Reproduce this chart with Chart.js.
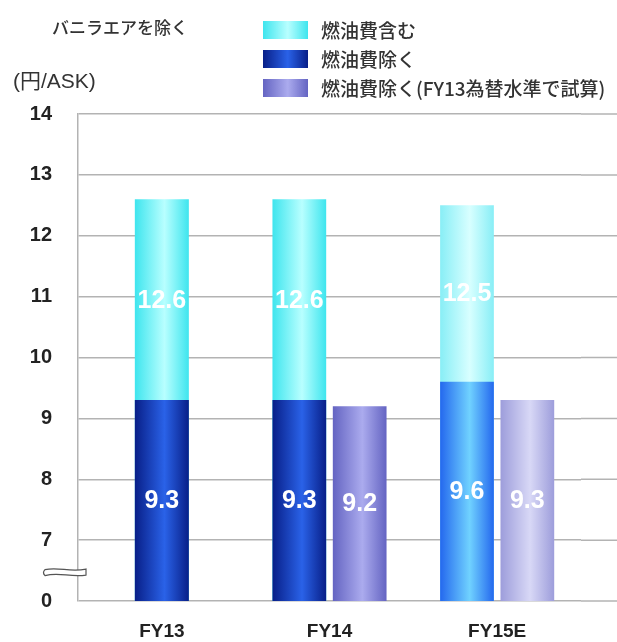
<!DOCTYPE html>
<html lang="ja">
<head>
<meta charset="utf-8">
<script src="https://cdn.jsdelivr.net/npm/chart.js@4.4.0/dist/chart.umd.min.js"></script>
<style>
  body { margin: 0; background: #fff; }
  #wrap { position: relative; width: 617px; height: 642px; }
  .note { position: absolute; white-space: nowrap; color: #333; line-height: 1; }
  #title { left: 52px; top: 14px; font: 500 17px "Noto Sans CJK JP", sans-serif; }
  #unit { left: 13px; top: 64px; font: 21px "Liberation Sans", "Noto Sans CJK JP", sans-serif; }
  #legend { position: absolute; left: 263px; top: 15px; font: 500 19px "Noto Sans CJK JP", sans-serif; color: #333; }
  #legend .row { height: 29px; display: flex; align-items: center; white-space: nowrap; }
  #legend .box { width: 45px; height: 18px; margin-right: 13px; }
</style>
</head>
<body>
<div id="wrap">
  <canvas id="costChart"></canvas>
  <div class="note" id="title">バニラエアを除く</div>
  <div class="note" id="unit">(円/ASK)</div>
  <div id="legend"></div>
</div>
<script>
// Unit cost per ASK, excluding Vanilla Air
const categories = ["FY13", "FY14", "FY15E"];
const seriesNames = ["燃油費含む", "燃油費除く", "燃油費除く(FY13為替水準で試算)"];
const withFuel = [12.6, 12.6, 12.5];
const exFuel = [9.3, 9.3, 9.6];
const exFuelFy13Fx = [null, 9.2, 9.3];
// axis is broken between 0 and 7, the bottom slot stands for 0
const axisFloor = 6;
const axisTop = 14;
const tickLabels = ["0", "7", "8", "9", "10", "11", "12", "13", "14"];

// edge / centre colours for the cylinder shading, estimates are lighter
const shades = {
  cyan: { actual: ["#3ee5ee", "#b8ffff"], estimate: ["#88eef6", "#d8ffff"] },
  blue: { actual: ["#081f88", "#2a62e8"], estimate: ["#2468ee", "#70d2ff"] },
  purple: { actual: ["#6464c2", "#ababee"], estimate: ["#9d9ddb", "#d8d8f6"] },
};
const isEstimate = categories.map((c) => c.endsWith("E"));
const numFont = '"Liberation Sans", Arial, sans-serif';
const gridColor = "#b3b3b3";

const datasets = [
  { label: seriesNames[0], data: withFuel, stack: "main", order: 2, shade: shades.cyan, labelFloor: exFuel },
  { label: seriesNames[1], data: exFuel, stack: "main", order: 1, shade: shades.blue },
  { label: seriesNames[2], data: exFuelFy13Fx, stack: "fx", order: 3, shade: shades.purple },
].map((ds) => Object.assign(ds, {
  backgroundColor: (c) => c.dataset.shade.actual[0],
  borderWidth: 0,
  skipNull: true,
  categoryPercentage: 0.72,
  barPercentage: 0.89,
  maxBarThickness: 54,
}));

// horizontal gradient on every bar so they look like cylinders
const shading = {
  id: "shading",
  beforeDatasetsDraw(chart) {
    const ctx = chart.ctx;
    chart.data.datasets.forEach((ds, di) => {
      chart.getDatasetMeta(di).data.forEach((bar, i) => {
        if (ds.data[i] == null || !isFinite(bar.x)) return;
        const [edge, mid] = isEstimate[i] ? ds.shade.estimate : ds.shade.actual;
        const g = ctx.createLinearGradient(bar.x - bar.width / 2, 0, bar.x + bar.width / 2, 0);
        g.addColorStop(0, edge);
        g.addColorStop(0.55, mid);
        g.addColorStop(1, edge);
        bar.options.backgroundColor = g;
      });
    });
  },
};

// grid lines run on past the last category to the edge
const gridTail = {
  id: "gridTail",
  beforeDatasetsDraw(chart) {
    const { ctx, chartArea } = chart;
    const y = chart.scales.y;
    ctx.save();
    ctx.strokeStyle = gridColor;
    ctx.lineWidth = 1.5;
    y.ticks.forEach((t) => {
      const py = y.getPixelForValue(t.value);
      ctx.beginPath();
      ctx.moveTo(chartArea.right, py);
      ctx.lineTo(chart.width, py);
      ctx.stroke();
    });
    ctx.restore();
  },
};

// white values in the middle of the visible part of each bar
const valueLabels = {
  id: "valueLabels",
  afterDatasetsDraw(chart) {
    const ctx = chart.ctx;
    const y = chart.scales.y;
    ctx.save();
    ctx.font = "bold 25px " + numFont;
    ctx.fillStyle = "#fff";
    ctx.textAlign = "center";
    ctx.textBaseline = "middle";
    chart.data.datasets.forEach((ds, di) => {
      chart.getDatasetMeta(di).data.forEach((bar, i) => {
        const v = ds.data[i];
        if (v == null) return;
        const floor = ds.labelFloor ? y.getPixelForValue(ds.labelFloor[i]) : y.bottom;
        ctx.fillText(v.toFixed(1), bar.x, (bar.y + floor) / 2 + 1);
      });
    });
    ctx.restore();
  },
};

// wavy break mark across the value axis between 0 and 7
const axisBreak = {
  id: "axisBreak",
  afterDraw(chart) {
    const ctx = chart.ctx;
    const y = chart.scales.y;
    const cy = (y.getPixelForValue(y.ticks[0].value) + y.getPixelForValue(y.ticks[1].value)) / 2 + 2;
    const x0 = chart.chartArea.left - 33;
    const x1 = chart.chartArea.left + 8;
    const w = x1 - x0;
    ctx.save();
    ctx.beginPath();
    ctx.moveTo(x0, cy - 3);
    ctx.bezierCurveTo(x0 + w * 0.35, cy - 6, x0 + w * 0.6, cy, x1, cy - 3.5);
    ctx.lineTo(x1, cy + 2.5);
    ctx.bezierCurveTo(x0 + w * 0.6, cy + 5, x0 + w * 0.35, cy - 1, x0, cy + 3);
    ctx.quadraticCurveTo(x0 - 3, cy, x0, cy - 3);
    ctx.closePath();
    ctx.fillStyle = "#fff";
    ctx.fill();
    ctx.strokeStyle = "#555";
    ctx.lineWidth = 1.2;
    ctx.stroke();
    ctx.restore();
  },
};

const chart = new Chart(document.getElementById("costChart"), {
  type: "bar",
  data: { labels: categories, datasets: datasets },
  options: {
    responsive: true,
    maintainAspectRatio: false,
    devicePixelRatio: 1,
    animation: false,
    events: [],
    layout: { padding: { top: 114, right: 36, left: 0, bottom: 0 } },
    plugins: { legend: { display: false }, tooltip: { enabled: false } },
    scales: {
      x: {
        stacked: true,
        grid: { display: false },
        border: { display: false },
        ticks: { color: "#222", padding: 11, font: { family: numFont, size: 19, weight: "bold" } },
        afterFit: (s) => { s.height = 41; },
      },
      y: {
        stacked: false,
        min: axisFloor,
        max: axisTop,
        grid: { color: gridColor, lineWidth: 1.5, drawTicks: false },
        border: { color: gridColor, width: 1.5 },
        ticks: {
          stepSize: 1,
          padding: 26,
          color: "#222",
          font: { family: numFont, size: 20, weight: "bold" },
          callback: (value, index) => tickLabels[index],
        },
        afterFit: (s) => { s.width = 78; },
      },
    },
  },
  plugins: [shading, gridTail, valueLabels, axisBreak],
});

// legend swatches share the bar shading
const legend = document.getElementById("legend");
chart.data.datasets.forEach((ds) => {
  const [edge, mid] = ds.shade.actual;
  const row = document.createElement("div");
  row.className = "row";
  const box = document.createElement("span");
  box.className = "box";
  box.style.background = `linear-gradient(to right, ${edge}, ${mid} 55%, ${edge})`;
  const text = document.createElement("span");
  text.textContent = ds.label;
  row.append(box, text);
  legend.append(row);
});
</script>
</body>
</html>
